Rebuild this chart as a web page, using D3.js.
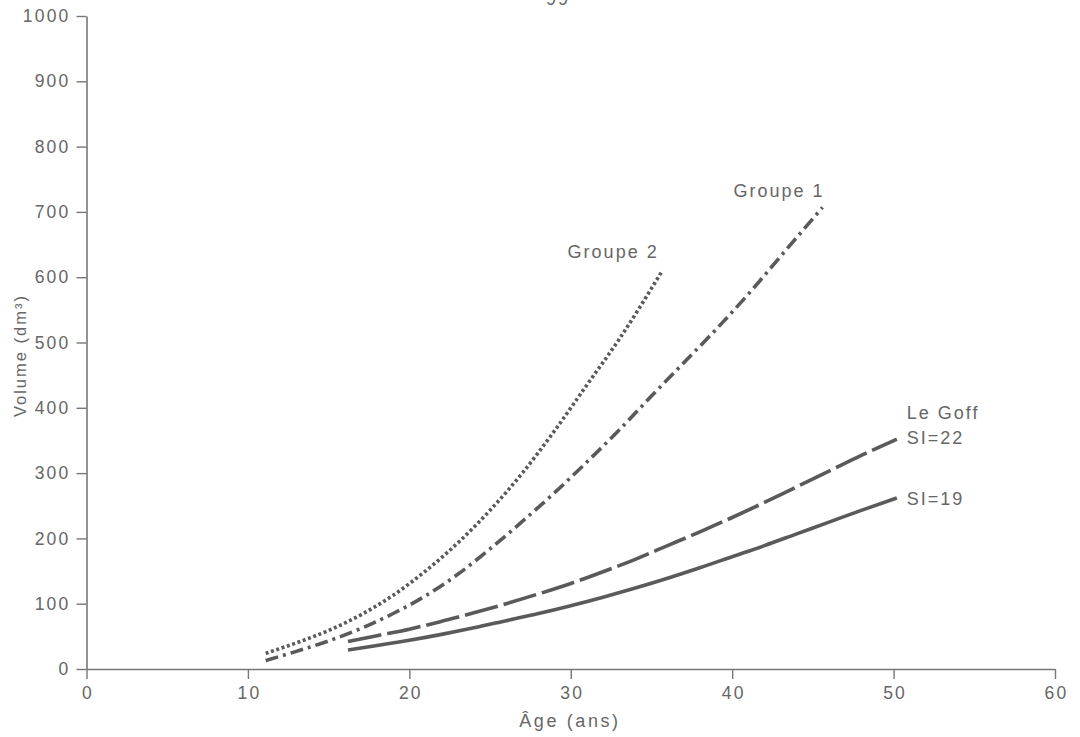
<!DOCTYPE html>
<html>
<head>
<meta charset="utf-8">
<script src="https://cdn.jsdelivr.net/npm/d3@7"></script>
<style>
  body { margin: 0; background: #fff; }
  svg text { font-family: "Liberation Sans", Arial, sans-serif; fill: #666; letter-spacing: 2px; }
</style>
</head>
<body>
<div id="container"></div>
<script>
/* CONSTANTS AND GLOBALS */
const width = 1080, height = 737;

/* DATA */
// Groupe 2 - dotted
const ageG2 = [11.1, 13, 15, 17, 19, 21, 23, 25, 27, 29, 31, 33, 35.6];
const volG2 = [24, 40, 59, 83, 113, 150, 193, 243, 300, 365, 435, 505, 607];
// Groupe 1 - dash dot
const ageG1 = [11.1, 13, 15, 17, 19, 21, 23, 25, 27, 29, 31, 33, 35, 37, 39, 41, 43, 45.6];
const volG1 = [13, 27, 43, 62, 85, 112, 145, 184, 226, 270, 317, 366, 418, 469, 520, 574, 632, 707];
// Le Goff SI=22 - dashed
const ageSI22 = [16.2, 18, 20, 22, 24, 26, 28, 30, 32, 34, 36, 38, 40, 42, 44, 46, 48, 50.2];
const volSI22 = [42, 51, 61, 73, 86, 100, 115, 131, 149, 168, 189, 210, 232, 255, 279, 303, 327, 352];
// Le Goff SI=19 - solid
const ageSI19 = [16.2, 18, 20, 22, 24, 26, 28, 30, 32, 34, 36, 38, 40, 42, 44, 46, 48, 50.2];
const volSI19 = [29, 36, 44, 53, 63, 74, 85, 97, 110, 124, 139, 155, 172, 189, 207, 225, 243, 262];

const xTicks = [0, 10, 20, 30, 40, 50, 60];
const yTicks = [0, 100, 200, 300, 400, 500, 600, 700, 800, 900, 1000];

const series = [
  { name: "Groupe 2", age: ageG2, vol: volG2, dash: "3 2.6" },
  { name: "Groupe 1", age: ageG1, vol: volG1, dash: "13 5 3 5" },
  { name: "SI=22", age: ageSI22, vol: volSI22, dash: "34 6" },
  { name: "SI=19", age: ageSI19, vol: volSI19, dash: null }
];

/* SCALES */
const xScale = d3.scaleLinear().domain([0, 60]).range([86.5, 1055]);
const yScale = d3.scaleLinear().domain([0, 1000]).range([669, 16]);

const svg = d3.select("#container").append("svg")
  .attr("width", width)
  .attr("height", height);

// page number, cut off at the top like on the scan
svg.append("text").attr("x", 558).attr("y", 5).attr("text-anchor", "middle")
  .style("font-size", "18px").text("99");

/* AXES */
const xAxis = d3.axisBottom(xScale).tickValues(xTicks).tickSize(10).tickSizeOuter(0).tickPadding(8);
const yAxis = d3.axisLeft(yScale).tickValues(yTicks).tickFormat(d3.format("d"))
  .tickSize(10).tickSizeOuter(0).tickPadding(6);

const gx = svg.append("g").attr("transform", `translate(0,${yScale(0)})`).call(xAxis);
const gy = svg.append("g").attr("transform", `translate(${xScale(0)},0)`).call(yAxis);

[gx, gy].forEach(g => {
  g.select(".domain").attr("stroke", "#777").attr("stroke-width", 1.6);
  g.selectAll(".tick line").attr("stroke", "#777").attr("stroke-width", 1.4);
  g.selectAll(".tick text").style("font-size", "17.5px").style("letter-spacing", "2.2px").attr("fill", "#666");
});
gx.selectAll(".tick text").attr("dx", "1px");

svg.append("text")
  .attr("x", 570).attr("y", 727).attr("text-anchor", "middle")
  .style("font-size", "18px").style("letter-spacing", "2.6px")
  .text("Âge (ans)");

svg.append("text")
  .attr("transform", `translate(26,${yScale(480)}) rotate(-90)`)
  .attr("text-anchor", "middle")
  .style("font-size", "16.5px")
  .text("Volume (dm³)");

/* LINES */
const line = d3.line()
  .x(d => xScale(d[0]))
  .y(d => yScale(d[1]))
  .curve(d3.curveMonotoneX);

svg.selectAll("path.curve")
  .data(series)
  .join("path")
  .attr("class", "curve")
  .attr("d", s => line(s.age.map((a, i) => [a, s.vol[i]])))
  .attr("fill", "none")
  .attr("stroke", "#5a5a5a")
  .attr("stroke-width", 3.6)
  .attr("stroke-dasharray", s => s.dash);

/* LABELS */
const lastPt = s => [xScale(s.age[s.age.length - 1]), yScale(s.vol[s.vol.length - 1])];

const g2 = lastPt(series[0]);
svg.append("text").attr("x", g2[0] - 48).attr("y", g2[1] - 15).attr("text-anchor", "middle")
  .style("font-size", "18px").text("Groupe 2");

const g1 = lastPt(series[1]);
svg.append("text").attr("x", g1[0] + 2).attr("y", g1[1] - 10).attr("text-anchor", "end")
  .style("font-size", "18px").text("Groupe 1");

const s22 = lastPt(series[2]);
svg.append("text").attr("x", s22[0] + 10).attr("y", s22[1] - 20)
  .style("font-size", "18px").text("Le Goff");
svg.append("text").attr("x", s22[0] + 10).attr("y", s22[1] + 5)
  .style("font-size", "18px").text("SI=22");

const s19 = lastPt(series[3]);
svg.append("text").attr("x", s19[0] + 10).attr("y", s19[1] + 7)
  .style("font-size", "18px").text("SI=19");
</script>
</body>
</html>
